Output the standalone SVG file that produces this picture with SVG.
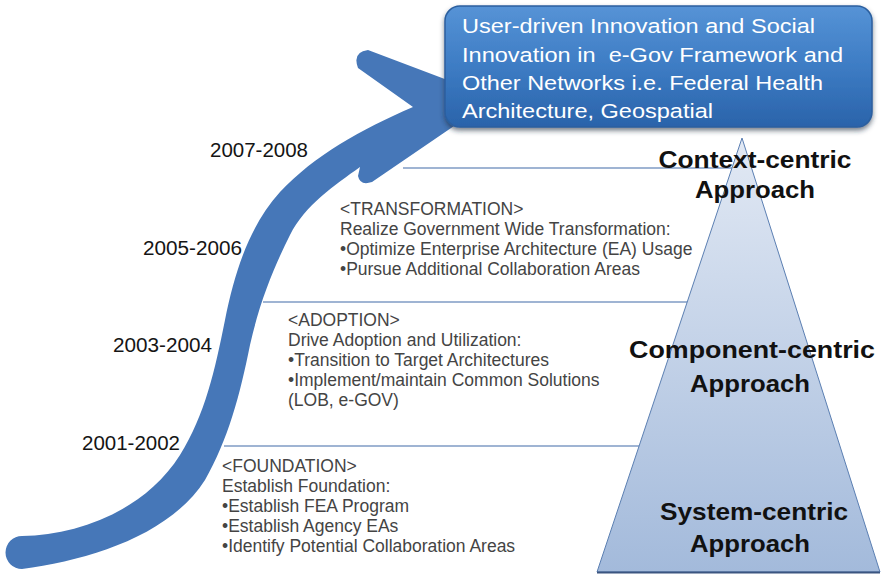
<svg xmlns="http://www.w3.org/2000/svg" width="883" height="574" viewBox="0 0 883 574">
<defs>
<linearGradient id="triGrad" x1="0" y1="0" x2="0" y2="1">
<stop offset="0" stop-color="#e2e9f4"/>
<stop offset="1" stop-color="#a3badb"/>
</linearGradient>
<linearGradient id="boxGrad" x1="0" y1="0" x2="0" y2="1">
<stop offset="0" stop-color="#5693d6"/>
<stop offset="0.5" stop-color="#3d7cc4"/>
<stop offset="1" stop-color="#2a63aa"/>
</linearGradient>
<filter id="shadow" x="-5%" y="-10%" width="110%" height="130%">
<feDropShadow dx="0" dy="3" stdDeviation="2.5" flood-color="#1a2a40" flood-opacity="0.6"/>
</filter>
<style>
.yr{font-family:"Liberation Sans",Arial,sans-serif;font-size:20px;fill:#151515}
.body{font-family:"Liberation Sans",Arial,sans-serif;font-size:17.5px;fill:#444444}
.appr{font-family:"Liberation Sans",Arial,sans-serif;font-size:24px;font-weight:bold;fill:#111111;text-anchor:middle}
.boxt{font-family:"Liberation Sans",Arial,sans-serif;font-size:20.5px;fill:#ffffff;white-space:pre}
.sep{stroke:#7f9bc4;stroke-width:1.5;fill:none}
</style>
</defs>
<g id="connectors">
<line class="sep" x1="403" y1="168" x2="735" y2="168"/>
<line class="sep" x1="263" y1="302" x2="690" y2="302"/>
<line class="sep" x1="224" y1="446" x2="642" y2="446"/>
</g>
<g id="arrow">
<path fill="#4677b8" d="M22,536 C80,535 145,510 180,455 C205,415 215,370 225,320 C235,270 250,225 280,192 C315,155 360,130 413,107 L358,68 Q352,52 368,50 L495,98 L372,182 Q360,186 358,176 L360,167 C335,185 305,205 290,235 C275,265 260,300 250,345 C240,395 228,440 205,480 C170,535 90,560 22,569 A16.5,16.5 0 0 1 22,536 Z"/>
</g>
<g id="pyramid">
<polygon points="742,138 597,572 880,572" fill="url(#triGrad)" stroke="#5b7fb2" stroke-width="1"/>
<line x1="597" y1="572.5" x2="880" y2="572.5" stroke="#3b5580" stroke-width="2"/>
</g>
<g id="goal">
<rect x="445" y="6" width="427" height="121" rx="15" ry="15" fill="url(#boxGrad)" stroke="#2c5f9f" stroke-width="1.5" filter="url(#shadow)"/>
<text class="boxt" x="462" y="33" textLength="353" lengthAdjust="spacingAndGlyphs">User-driven Innovation and Social</text>
<text class="boxt" x="462" y="62" textLength="381" lengthAdjust="spacingAndGlyphs">Innovation in  e-Gov Framework and</text>
<text class="boxt" x="462" y="90" textLength="361" lengthAdjust="spacingAndGlyphs">Other Networks i.e. Federal Health</text>
<text class="boxt" x="462" y="118" textLength="251" lengthAdjust="spacingAndGlyphs">Architecture, Geospatial</text>
</g>
<g id="years">
<text class="yr" x="210" y="157" textLength="98" lengthAdjust="spacingAndGlyphs">2007-2008</text>
<text class="yr" x="143" y="255" textLength="99" lengthAdjust="spacingAndGlyphs">2005-2006</text>
<text class="yr" x="113" y="352" textLength="99" lengthAdjust="spacingAndGlyphs">2003-2004</text>
<text class="yr" x="82" y="450" textLength="98" lengthAdjust="spacingAndGlyphs">2001-2002</text>
</g>
<g id="transformation">
<text class="body" x="340" y="215">&lt;TRANSFORMATION&gt;</text>
<text class="body" x="340" y="235">Realize Government Wide Transformation:</text>
<text class="body" x="340" y="255">•Optimize Enterprise Architecture (EA) Usage</text>
<text class="body" x="340" y="275">•Pursue Additional Collaboration Areas</text>
</g>
<g id="adoption">
<text class="body" x="288" y="326">&lt;ADOPTION&gt;</text>
<text class="body" x="288" y="346">Drive Adoption and Utilization:</text>
<text class="body" x="288" y="366">•Transition to Target Architectures</text>
<text class="body" x="288" y="386">•Implement/maintain Common Solutions</text>
<text class="body" x="288" y="406">(LOB, e-GOV)</text>
</g>
<g id="foundation">
<text class="body" x="222" y="472">&lt;FOUNDATION&gt;</text>
<text class="body" x="222" y="492">Establish Foundation:</text>
<text class="body" x="222" y="512">•Establish FEA Program</text>
<text class="body" x="222" y="532">•Establish Agency EAs</text>
<text class="body" x="222" y="552">•Identify Potential Collaboration Areas</text>
</g>
<g id="context-centric">
<text class="appr" x="755" y="168" textLength="193" lengthAdjust="spacingAndGlyphs">Context-centric</text>
<text class="appr" x="755" y="198" textLength="120" lengthAdjust="spacingAndGlyphs">Approach</text>
</g>
<g id="component-centric">
<text class="appr" x="752" y="358" textLength="246" lengthAdjust="spacingAndGlyphs">Component-centric</text>
<text class="appr" x="750" y="392" textLength="120" lengthAdjust="spacingAndGlyphs">Approach</text>
</g>
<g id="system-centric">
<text class="appr" x="754" y="520" textLength="188" lengthAdjust="spacingAndGlyphs">System-centric</text>
<text class="appr" x="750" y="552" textLength="120" lengthAdjust="spacingAndGlyphs">Approach</text>
</g>
</svg>
